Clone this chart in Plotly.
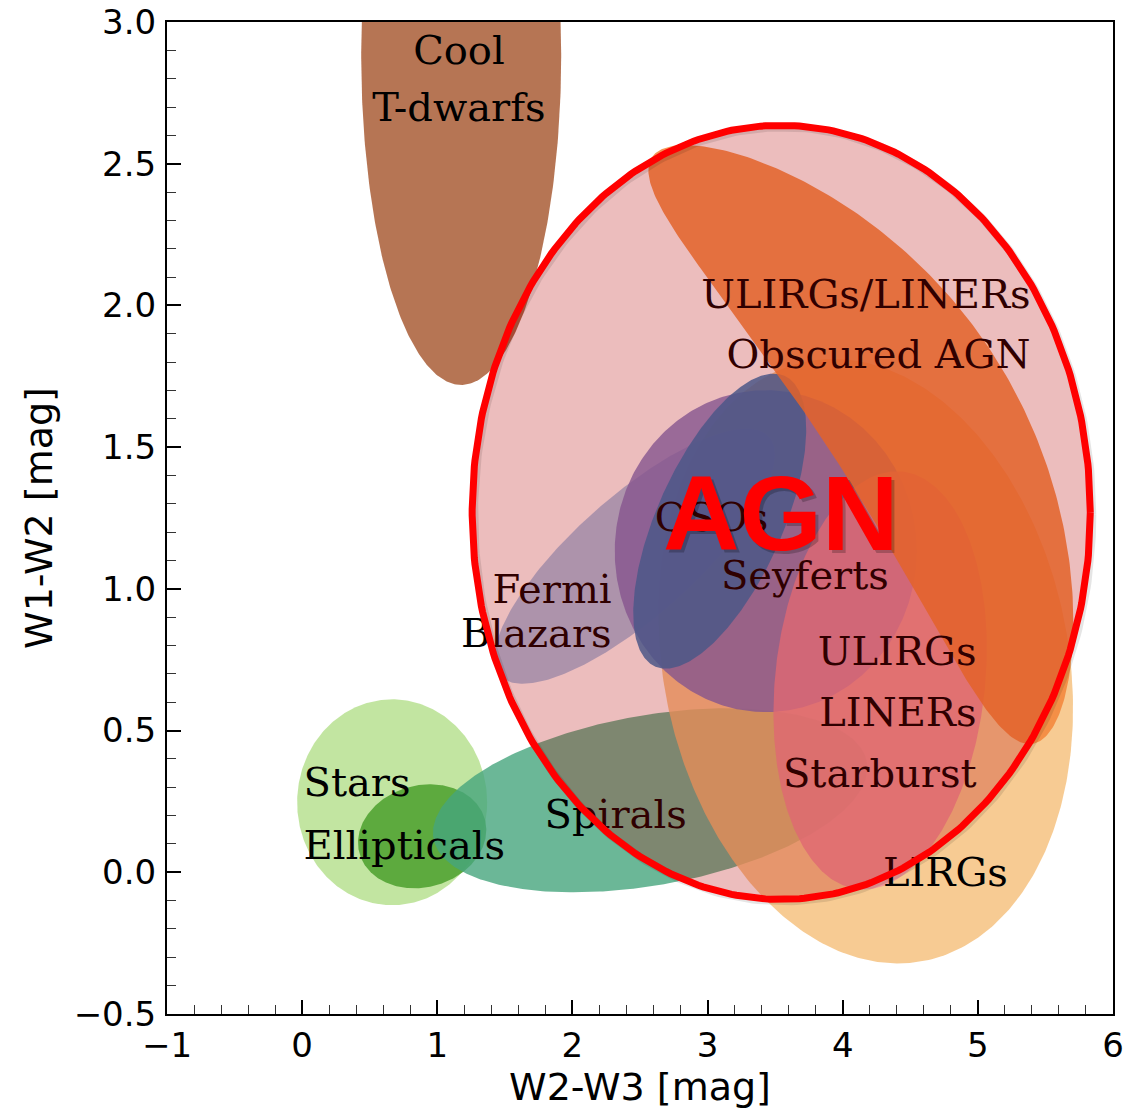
import numpy as np
import plotly.graph_objects as go

# ---- WISE colour-colour regions (W2-W3 vs W1-W2) ----
region_names = ["Stars", "Ellipticals", "Spirals", "LIRGs", "Fermi Blazars", "Seyferts",
                "QSOs", "ULIRGs/LINERs/Starburst", "ULIRGs/LINERs/Obscured AGN", "Cool T-dwarfs"]
region_cx = [0.666, 0.888, 2.575, 4.170, 2.460, 3.430, 3.090, 4.277, 4.520, 1.177]
region_cy = [0.247, 0.127, 0.254, 0.745, 1.115, 1.133, 1.239, 0.677, 1.650, 2.883]
region_a = [0.703, 0.481, 1.628, 2.260, 1.330, 1.117, 1.177, 1.554, 2.600, 0.740]
region_b = [0.762, 0.377, 0.629, 1.500, 0.444, 1.191, 0.465, 0.777, 0.700, 2.440]
region_angle = [0, 15, 10, 101, 41.6, 0, 66, 84, -57, 0]
region_bend = [0, 0, 0, 0, 0, 0, 0, 0, -0.56, 0]

# ---- AGN selection ellipse ----
agn_cx, agn_cy = 3.545, 1.270
agn_a, agn_b = 2.287, 2.864

# ---- text labels ----
label_text = ["Cool", "T-dwarfs", "ULIRGs/LINERs", "Obscured AGN", "QSOs", "Seyferts",
              "Fermi", "Blazars", "ULIRGs", "LINERs", "Starburst", "Spirals",
              "Stars", "Ellipticals", "LIRGs"]
label_x = [1.16, 1.16, 5.39, 5.39, 3.03, 3.72, 2.29, 2.29, 4.99, 4.99, 4.99, 2.32,
           0.01, 0.01, 4.76]
label_y = [2.886, 2.686, 2.026, 1.816, 1.238, 1.036, 0.986, 0.831, 0.766, 0.551, 0.336,
           0.191, 0.304, 0.081, -0.014]
label_pos = ["middle center", "middle center", "middle left", "middle left",
             "middle center", "middle center", "middle left", "middle left",
             "middle left", "middle left", "middle left", "middle center",
             "middle right", "middle right", "middle center"]

# ---- axes ----
x_range = [-1, 6]
y_range = [-0.5, 3.0]
x_ticks = [-1, 0, 1, 2, 3, 4, 5, 6]
y_ticks = [-0.5, 0.0, 0.5, 1.0, 1.5, 2.0, 2.5, 3.0]

fill_colors = [
    "rgba(183,224,145,0.85)",  # Stars
    "rgba(75,160,45,0.85)",    # Ellipticals
    "rgba(70,165,125,0.80)",   # Spirals
    "rgba(245,190,120,0.80)",  # LIRGs
    "rgba(150,185,225,0.80)",  # Fermi Blazars
    "rgba(117,115,193,0.80)",  # Seyferts
    "rgba(40,118,183,0.85)",   # QSOs
    "rgba(238,140,155,0.80)",  # ULIRGs/LINERs/Starburst
    "rgba(243,133,56,0.85)",   # ULIRGs/LINERs/Obscured AGN
    "rgba(178,110,75,0.95)",   # Cool T-dwarfs
]

W, H = 1143, 1109
margin = dict(l=167, r=30, t=22, b=95)
plot_w = W - margin["l"] - margin["r"]
plot_h = H - margin["t"] - margin["b"]
# ratio between screen length of one y unit and one x unit
y_scale = (plot_h / (y_range[1] - y_range[0])) / (plot_w / (x_range[1] - x_range[0]))


def region_outline(cx, cy, a, b, angle, bend=0.0, n=400):
    """Closed outline of a (possibly bent) ellipse; a, b in x-units of screen length."""
    t = np.linspace(0, 2 * np.pi, n)
    u = a * np.cos(t)
    v = b * np.sin(t) + bend * (u / a) ** 2
    th = np.radians(angle)
    dx = u * np.cos(th) - v * np.sin(th)
    dy = u * np.sin(th) + v * np.cos(th)
    return cx + dx, cy + dy / y_scale


fig = go.Figure()

for name, cx, cy, a, b, ang, bend, col in zip(region_names, region_cx, region_cy, region_a,
                                              region_b, region_angle, region_bend, fill_colors):
    xs, ys = region_outline(cx, cy, a, b, ang, bend)
    fig.add_trace(go.Scatter(x=xs, y=ys, mode="lines", fill="toself", fillcolor=col,
                             line=dict(width=0), name=name, hoverinfo="skip"))

fig.add_trace(go.Scatter(
    x=label_x, y=label_y, text=label_text, mode="text", textposition=label_pos,
    textfont=dict(family="DejaVu Serif", size=40, color="black"), hoverinfo="skip"))

# translucent AGN overlay with its outline
ax_, ay_ = region_outline(agn_cx, agn_cy, agn_a, agn_b, 0)
fig.add_trace(go.Scatter(x=ax_, y=ay_, mode="lines", fill="toself",
                         fillcolor="rgba(182,0,0,0.26)", line=dict(width=0), hoverinfo="skip"))
sx = 2 * (x_range[1] - x_range[0]) / plot_w
sy = 2 * (y_range[1] - y_range[0]) / plot_h
fig.add_trace(go.Scatter(x=ax_ + sx, y=ay_ - sy, mode="lines",
                         line=dict(color="rgba(0,0,0,0.10)", width=8), hoverinfo="skip"))
fig.add_trace(go.Scatter(x=ax_, y=ay_, mode="lines",
                         line=dict(color="#ff0000", width=7), hoverinfo="skip"))

fig.add_annotation(x=agn_cx, y=agn_cy, text="<b>AGN</b>", showarrow=False, xshift=3, yshift=-4,
                   font=dict(family="Liberation Sans", size=106, color="rgba(0,0,0,0.22)"))
fig.add_annotation(x=agn_cx, y=agn_cy, text="<b>AGN</b>", showarrow=False, yshift=-1,
                   font=dict(family="Liberation Sans", size=106, color="#ff0000"))

axis_common = dict(showgrid=False, zeroline=False, showline=True, linecolor="black",
                   linewidth=2, mirror=True, ticks="inside", ticklen=14, tickwidth=1.6,
                   tickcolor="black", automargin=False,
                   tickfont=dict(family="DejaVu Sans", size=34, color="black"))
fig.update_xaxes(range=x_range, tickvals=x_ticks,
                 ticktext=[f"{v:g}".replace("-", "\u2212") for v in x_ticks],
                 minor=dict(ticks="inside", ticklen=9, tickwidth=1.2, tickcolor="#333", dtick=0.2),
                 title=dict(text="W2-W3 [mag]", font=dict(family="DejaVu Sans", size=38, color="black"),
                            standoff=0),
                 ticklabelstandoff=0, **axis_common)
fig.update_yaxes(range=y_range, tickvals=y_ticks,
                 ticktext=[f"{v:.1f}".replace("-", "\u2212") for v in y_ticks],
                 minor=dict(ticks="inside", ticklen=9, tickwidth=1.2, tickcolor="#333", dtick=0.1),
                 title=dict(text="W1-W2 [mag]", font=dict(family="DejaVu Sans", size=38, color="black"),
                            standoff=9),
                 ticklabelstandoff=2, **axis_common)

fig.update_layout(width=W, height=H, margin=margin, plot_bgcolor="white",
                  paper_bgcolor="white", showlegend=False)

fig.write_html("out.html")
